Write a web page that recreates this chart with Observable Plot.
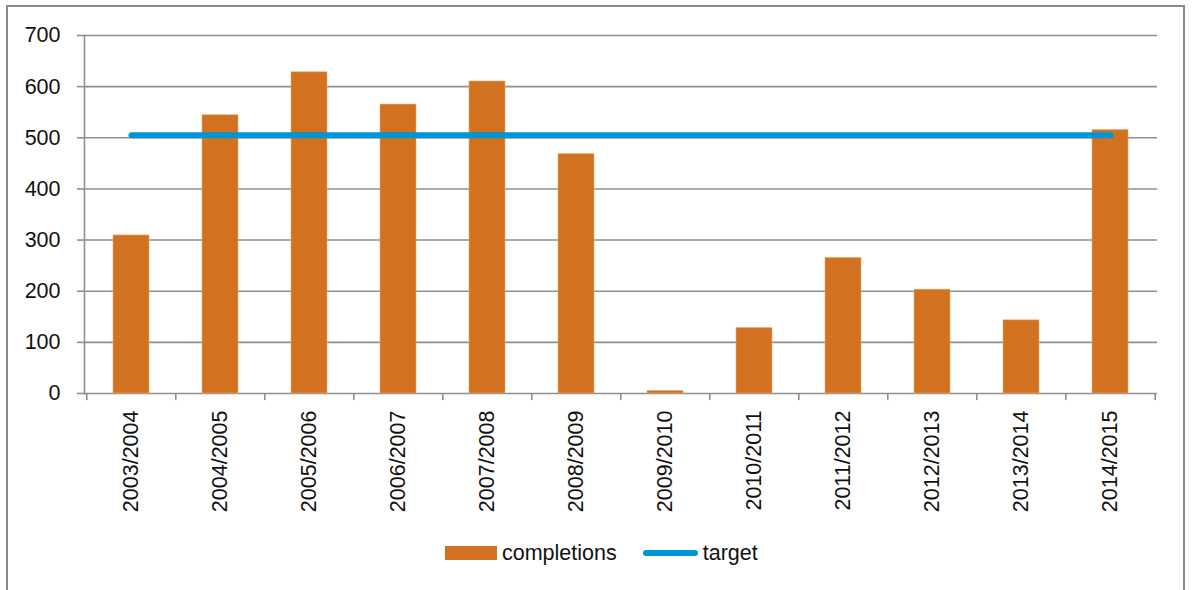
<!DOCTYPE html>
<html>
<head>
<meta charset="utf-8">
<script src="https://cdn.jsdelivr.net/npm/d3@7"></script>
<script src="https://cdn.jsdelivr.net/npm/@observablehq/plot@0.6"></script>
<style>
  html, body { margin: 0; padding: 0; background: #fff; }
  body { width: 1193px; height: 590px; position: relative; overflow: hidden; font-family: "Liberation Sans", Arial, sans-serif; }
  #border { position: absolute; left: 6px; top: 5px; width: 1179px; height: 600px; border: 2px solid #8a8a8a; box-sizing: border-box; pointer-events: none; }
  #chart { position: absolute; left: 0; top: 0; }
  #legend { position: absolute; left: 445px; top: 530px; height: 46px; display: flex; align-items: center; font-size: 21.5px; color: #111; }
  .sw { display: inline-block; }
</style>
</head>
<body>
<div id="border"></div>
<div id="chart"></div>
<div id="legend">
  <span class="sw" style="width:52px;height:14px;background:#D2711F;"></span>
  <span style="margin-left:5px;">completions</span>
  <span class="sw" style="width:55px;height:6px;background:#0095D5;border-radius:3px;margin-left:26px;"></span>
  <span style="margin-left:5px;">target</span>
</div>
<script>
const years = ["2003/2004","2004/2005","2005/2006","2006/2007","2007/2008","2008/2009","2009/2010","2010/2011","2011/2012","2012/2013","2013/2014","2014/2015"];
const completions = [309, 544, 628, 565, 610, 468, 5, 128, 265, 203, 143, 515];
const target = [505, 505, 505, 505, 505, 505, 505, 505, 505, 505, 505, 505];
const yTicks = [0, 100, 200, 300, 400, 500, 600, 700];

const data = years.map((y, i) => ({year: y, completions: completions[i], target: target[i]}));

const W = 1193, H = 530, mL = 84, mR = 36, mT = 35, mB = 137;
const step = (W - mL - mR) / years.length;
const FONT = "Liberation Sans, Arial, sans-serif";

const chart = Plot.plot({
  width: W,
  height: H,
  marginLeft: mL,
  marginRight: mR,
  marginTop: mT,
  marginBottom: mB,
  style: {fontFamily: FONT, fontSize: "21.5px", color: "#111", background: "transparent"},
  x: {domain: years, paddingInner: 0.6, paddingOuter: 0.3, align: 0.5, label: null},
  y: {domain: [0, 700], label: null},
  marks: [
    Plot.ruleY(yTicks, {stroke: "#8f8f8f", strokeWidth: 1.6}),
    Plot.barY(data, {x: "year", y: "completions", fill: "#D2711F", stroke: "#E9A86A", strokeWidth: 0.6}),
    Plot.lineY(data, {x: "year", y: "target", stroke: "#0095D5", strokeWidth: 6, strokeLinecap: "round"}),
    Plot.frame({anchor: "left", stroke: "#8f8f8f", strokeWidth: 1.6}),
    Plot.ruleX(years, {x: d => d, dx: -step / 2, y1: 0, y2: -14, stroke: "#8f8f8f", strokeWidth: 1.6, clip: false}),
    Plot.ruleX([years[years.length - 1]], {x: d => d, dx: step / 2, y1: 0, y2: -14, stroke: "#8f8f8f", strokeWidth: 1.6, clip: false}),
    Plot.axisY({ticks: yTicks, tickSize: 7, tickPadding: 17, stroke: "#8f8f8f", strokeWidth: 1.6, fontSize: 21.5, tickFormat: d => String(d), label: null}),
    Plot.axisX({tickSize: 0, tickPadding: 17, tickRotate: -90, fontSize: 21.5, label: null})
  ]
});
document.getElementById("chart").appendChild(chart);
</script>
</body>
</html>
